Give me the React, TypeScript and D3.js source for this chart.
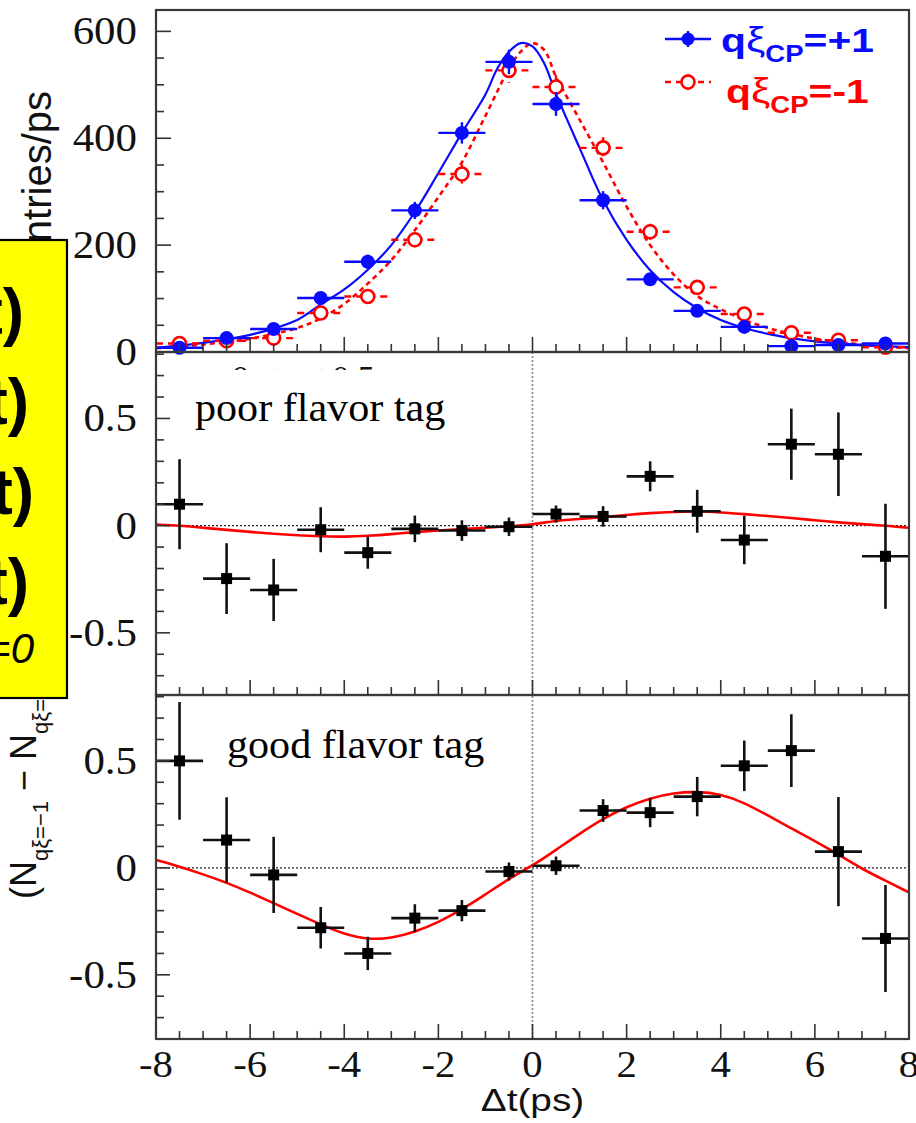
import React from "react";
import * as d3 from "d3";

// ---------- data ----------
const binCenters = [-7.5, -6.5, -5.5, -4.5, -3.5, -2.5, -1.5, -0.5, 0.5, 1.5, 2.5, 3.5, 4.5, 5.5, 6.5, 7.5];
const binHalfWidth = 0.5;

// top panel: entries/ps
const bluePlusVals = [8, 26, 43, 101, 169, 265, 410, 543, 464, 284, 136, 77, 47, 11, 13, 16];
const bluePlusErrs = [4, 5, 7, 10, 13, 16, 20, 23, 22, 17, 12, 9, 7, 4, 4, 4];
const redMinusVals = [16, 21, 26, 73, 104, 210, 333, 527, 496, 382, 225, 121, 71, 36, 22, 9];
const redMinusErrs = [4, 5, 5, 9, 10, 14, 18, 23, 22, 20, 15, 11, 8, 6, 5, 3];

const blueFitX = [-8, -7, -6, -5, -4.5, -4, -3.5, -3, -2.5, -2, -1.5, -1, -0.75, -0.5, -0.25, 0, 0.25, 0.5, 1, 1.5, 2, 2.5, 3, 3.5, 4, 4.5, 5, 5.5, 6, 6.5, 7, 7.5, 8];
const blueFitY = [8, 17, 32, 60, 89, 117, 154, 200, 262, 335, 410, 482, 530, 562, 578, 572, 540, 483, 382, 284, 210, 153, 112, 82, 60, 45, 34, 26, 20, 16, 13, 11, 9];
const redFitX = [-8, -7, -6, -5, -4.5, -4, -3.5, -3, -2.5, -2, -1.5, -1, -0.5, -0.25, 0, 0.25, 0.5, 1, 1.5, 2, 2.5, 3, 3.5, 4, 4.5, 5, 5.5, 6, 6.5, 7, 7.5, 8];
const redFitY = [7, 14, 25, 45, 63, 90, 128, 172, 228, 290, 355, 442, 530, 562, 578, 565, 515, 435, 355, 272, 200, 145, 105, 80, 60, 45, 34, 25, 19, 14, 10, 7];

// middle panel: poor flavor tag asymmetry
const poorVals = [0.10, -0.247, -0.30, -0.019, -0.126, -0.015, -0.023, -0.005, 0.054, 0.043, 0.23, 0.067, -0.067, 0.38, 0.333, -0.143];
const poorErrs = [0.21, 0.165, 0.145, 0.105, 0.075, 0.062, 0.048, 0.043, 0.04, 0.048, 0.07, 0.1, 0.113, 0.166, 0.195, 0.245];
const poorFitX = [-8, -7.5, -7, -6, -5, -4.5, -4, -3.5, -3, -2.5, -2, -1.5, -1, -0.5, 0, 0.5, 1, 1.5, 2, 2.5, 3, 3.5, 4, 4.5, 5, 5.5, 6, 6.5, 7, 7.5, 8];
const poorFitY = [0.005, 0, -0.01, -0.03, -0.045, -0.05, -0.052, -0.048, -0.04, -0.03, -0.022, -0.016, -0.01, -0.003, 0.005, 0.023, 0.031, 0.039, 0.05, 0.059, 0.064, 0.067, 0.062, 0.054, 0.045, 0.036, 0.025, 0.015, 0.007, 0, -0.01];

// bottom panel: good flavor tag asymmetry
const goodVals = [0.50, 0.13, -0.033, -0.28, -0.40, -0.235, -0.20, -0.017, 0.01, 0.268, 0.258, 0.333, 0.477, 0.548, 0.076, -0.33];
const goodErrs = [0.275, 0.2, 0.178, 0.097, 0.078, 0.065, 0.05, 0.042, 0.043, 0.053, 0.068, 0.092, 0.118, 0.17, 0.255, 0.25];
const goodFitX = [-8, -7.5, -7, -6.5, -6, -5.5, -5, -4.5, -4, -3.5, -3, -2.5, -2, -1.5, -1, -0.5, 0, 0.5, 1, 1.5, 2, 2.5, 3, 3.5, 4, 4.5, 5, 5.5, 6, 6.5, 7, 7.5, 8];
const goodFitY = [0.037, 0.006, -0.03, -0.069, -0.115, -0.165, -0.215, -0.265, -0.31, -0.335, -0.33, -0.3, -0.255, -0.195, -0.125, -0.05, 0.01, 0.084, 0.16, 0.23, 0.286, 0.326, 0.35, 0.357, 0.345, 0.305, 0.245, 0.185, 0.125, 0.062, -0.005, -0.06, -0.115];

// ticks / labels
const xTickLabels = [-8, -6, -4, -2, 0, 2, 4, 6, 8];
const topYTickLabels = [0, 200, 400, 600];
const asymYTickLabels = [-0.5, 0, 0.5];
const yellowLines = ["P(Δt)", "S(Δt)", "A(Δt)", "C(Δt)"];

// ---------- layout ----------
const W = 916;
const H = 1123;
const X0 = 156;
const X1 = 909;
const SERIF = "'Liberation Serif', 'Times New Roman', serif";
const SANS = "'Liberation Sans', Arial, sans-serif";
const BLUE = "#0a0aff";
const RED = "#ff0000";

const x = d3.scaleLinear().domain([-8, 8]).range([X0, X1]);
const topY = d3.scaleLinear().domain([0, 640]).range([352, 10]);
const midY = d3.scaleLinear().domain([-0.79, 0.81]).range([695, 352]);
const botY = d3.scaleLinear().domain([-0.8, 0.808]).range([1039, 695]);

const xMinor = d3.range(-7.5, 8, 0.5);

function fitPath(xs: number[], ys: number[], yScale: (v: number) => number, smooth = false) {
  const pts = xs.map((v, i) => [v, ys[i]] as [number, number]);
  return d3
    .line<[number, number]>()
    .x((d) => x(d[0]))
    .y((d) => yScale(d[1]))
    .curve(smooth ? d3.curveBasis : d3.curveCatmullRom.alpha(0.5))(pts) as string;
}

function XTicks({ bottom }: { bottom: number }) {
  return (
    <g stroke="#333" strokeWidth={1.6}>
      {xMinor.map((t) => {
        const major = Math.abs(t % 2) < 1e-6;
        return <line key={t} x1={x(t)} x2={x(t)} y1={bottom} y2={bottom - (major ? 15 : 8)} />;
      })}
    </g>
  );
}

function YTicks({ scale, minor, major, majorLen }: { scale: (v: number) => number; minor: number[]; major: number[]; majorLen: number }) {
  return (
    <g stroke="#333" strokeWidth={1.6}>
      {minor.map((t, i) => (
        <line key={"m" + i} x1={X0} x2={X0 + 8} y1={scale(t)} y2={scale(t)} />
      ))}
      {major.map((t, i) => (
        <line key={"M" + i} x1={X0} x2={X0 + majorLen} y1={scale(t)} y2={scale(t)} />
      ))}
    </g>
  );
}

function YLabel({ y, text }: { y: number; text: string }) {
  return (
    <text
      transform={`translate(137,${y + 13}) scale(1.1,1)`}
      textAnchor="end"
      fontFamily={SERIF}
      fontSize={39}
      fill="#111"
    >
      {text}
    </text>
  );
}

function AsymPoints({ vals, errs, scale }: { vals: number[]; errs: number[]; scale: (v: number) => number }) {
  return (
    <g>
      {binCenters.map((c, i) => (
        <g key={i} stroke="#111" strokeWidth={2.6}>
          <line x1={x(c - binHalfWidth)} x2={x(c + binHalfWidth)} y1={scale(vals[i])} y2={scale(vals[i])} />
          <line x1={x(c)} x2={x(c)} y1={scale(vals[i] + errs[i])} y2={scale(vals[i] - errs[i])} />
          <rect x={x(c) - 5.5} y={scale(vals[i]) - 5.5} width={11} height={11} fill="#000" stroke="none" />
        </g>
      ))}
    </g>
  );
}

function fmt(v: number) {
  return v < 0 ? "-" + String(Math.abs(v)) : String(v);
}

export default function App() {
  const minorTop = d3.range(50, 640, 50).filter((v) => v % 200 !== 0);
  const minorAsym = d3.range(-7, 9).map((v) => v / 10).filter((v) => Math.abs(v * 10) % 5 !== 0);

  return (
    <svg
      width={W}
      height={H}
      viewBox={`0 0 ${W} ${H}`}
      style={{ position: "absolute", left: 0, top: 0, background: "#fff" }}
    >
      <rect x={0} y={0} width={W} height={H} fill="#fff" />

      {/* ---------------- top panel ---------------- */}
      <path d={fitPath(redFitX, redFitY, topY)} fill="none" stroke={RED} strokeWidth={2.6} strokeDasharray="5,4" />
      <path d={fitPath(blueFitX, blueFitY, topY)} fill="none" stroke={BLUE} strokeWidth={2.2} />
      {binCenters.map((c, i) => (
        <g key={"r" + i} stroke={RED} strokeWidth={2.4} strokeDasharray="7,5">
          <line x1={x(c - binHalfWidth)} x2={x(c + binHalfWidth)} y1={topY(redMinusVals[i])} y2={topY(redMinusVals[i])} />
          <line x1={x(c)} x2={x(c)} y1={topY(redMinusVals[i] + redMinusErrs[i])} y2={topY(redMinusVals[i] - redMinusErrs[i])} />
        </g>
      ))}
      {binCenters.map((c, i) => (
        <circle key={"rc" + i} cx={x(c)} cy={topY(redMinusVals[i])} r={6.5} fill="#fff" stroke={RED} strokeWidth={2.6} />
      ))}
      {binCenters.map((c, i) => (
        <g key={"b" + i} stroke={BLUE} strokeWidth={2.4}>
          <line x1={x(c - binHalfWidth)} x2={x(c + binHalfWidth)} y1={topY(bluePlusVals[i])} y2={topY(bluePlusVals[i])} />
          <line x1={x(c)} x2={x(c)} y1={topY(bluePlusVals[i] + bluePlusErrs[i])} y2={topY(bluePlusVals[i] - bluePlusErrs[i])} />
          <circle cx={x(c)} cy={topY(bluePlusVals[i])} r={7} fill={BLUE} stroke="none" />
        </g>
      ))}
      <XTicks bottom={352} />
      <YTicks scale={topY} minor={minorTop} major={topYTickLabels} majorLen={15} />

      {/* legend */}
      <g>
        <line x1={665} x2={711} y1={39} y2={39} stroke={BLUE} strokeWidth={2.4} />
        <line x1={688} x2={688} y1={31} y2={47} stroke={BLUE} strokeWidth={2.4} />
        <circle cx={688} cy={39} r={6.5} fill={BLUE} />
        <line x1={665} x2={711} y1={82} y2={82} stroke={RED} strokeWidth={2.4} strokeDasharray="6,5" />
        <line x1={688} x2={688} y1={74} y2={90} stroke={RED} strokeWidth={2.4} />
        <circle cx={688} cy={82} r={6.5} fill="#fff" stroke={RED} strokeWidth={2.6} />
        <text transform="translate(721,52) scale(1.2,1)" fontFamily={SANS} fontWeight="bold" fontSize={34} fill={BLUE}>
          q<tspan fontWeight="normal" fontSize={36}>ξ</tspan>
          <tspan fontSize={23} dy={10}>CP</tspan>
          <tspan dy={-10}>=+1</tspan>
        </text>
        <text transform="translate(726,103) scale(1.2,1)" fontFamily={SANS} fontWeight="bold" fontSize={34} fill={RED}>
          q<tspan fontWeight="normal" fontSize={36}>ξ</tspan>
          <tspan fontSize={23} dy={10}>CP</tspan>
          <tspan dy={-10}>=-1</tspan>
        </text>
      </g>

      {/* ---------------- middle panel ---------------- */}
      <line x1={X0} x2={X1} y1={midY(0)} y2={midY(0)} stroke="#222" strokeWidth={1.4} strokeDasharray="2,2" />
      <line x1={x(0)} x2={x(0)} y1={352} y2={1039} stroke="#888" strokeWidth={1.6} strokeDasharray="2,2" />
      <text x={232} y={389} fontFamily={SERIF} fontSize={34} fill="#111">0 &lt; r ≤ 0.5</text>
      <rect x={172} y={370} width={298} height={70} fill="#fff" />
      <text transform="translate(195,421) scale(1.08,1)" fontFamily={SERIF} fontSize={39} fill="#000">
        poor flavor tag
      </text>
      <path d={fitPath(poorFitX, poorFitY, midY, true)} fill="none" stroke={RED} strokeWidth={2.6} />
      <AsymPoints vals={poorVals} errs={poorErrs} scale={midY} />
      <XTicks bottom={695} />
      <YTicks scale={midY} minor={minorAsym} major={asymYTickLabels} majorLen={14} />

      {/* ---------------- bottom panel ---------------- */}
      <line x1={X0} x2={X1} y1={botY(0)} y2={botY(0)} stroke="#222" strokeWidth={1.4} strokeDasharray="2,2" />
      <rect x={207} y={705} width={301} height={73} fill="#fff" />
      <text transform="translate(227,758) scale(1.08,1)" fontFamily={SERIF} fontSize={39} fill="#000">
        good flavor tag
      </text>
      <path d={fitPath(goodFitX, goodFitY, botY, true)} fill="none" stroke={RED} strokeWidth={2.6} />
      <AsymPoints vals={goodVals} errs={goodErrs} scale={botY} />
      <XTicks bottom={1039} />
      <YTicks scale={botY} minor={minorAsym} major={asymYTickLabels} majorLen={14} />

      {/* frames */}
      <g fill="none" stroke="#3a3a3a" strokeWidth={2.2}>
        <rect x={X0} y={10} width={X1 - X0} height={342} />
        <rect x={X0} y={352} width={X1 - X0} height={343} />
        <rect x={X0} y={695} width={X1 - X0} height={344} />
      </g>

      {/* y labels */}
      {topYTickLabels.map((t) => (
        <YLabel key={"ty" + t} y={topY(t)} text={String(t)} />
      ))}
      {asymYTickLabels.map((t) => (
        <YLabel key={"my" + t} y={midY(t)} text={fmt(t)} />
      ))}
      {asymYTickLabels.map((t) => (
        <YLabel key={"by" + t} y={botY(t)} text={fmt(t)} />
      ))}

      {/* x labels */}
      {xTickLabels.map((t) => (
        <text
          key={"xl" + t}
          transform={`translate(${x(t)},1077) scale(1.1,1)`}
          textAnchor="middle"
          fontFamily={SERIF}
          fontSize={37}
          fill="#111"
        >
          {fmt(t)}
        </text>
      ))}
      <text
        transform={`translate(${x(0)},1111) scale(1.25,1)`}
        textAnchor="middle"
        fontFamily={SANS}
        fontSize={31}
        fill="#111"
      >
        Δt(ps)
      </text>

      {/* y titles */}
      <text transform="translate(51,91) rotate(-90)" textAnchor="end" fontFamily={SANS} fontSize={40} fill="#111">
        Entries/ps
      </text>
      <text transform="translate(36,899) rotate(-90)" textAnchor="start" fontFamily={SANS} fontSize={36} fill="#111">
        (N<tspan fontSize={22} dy={12}>qξ=−1</tspan>
        <tspan dy={-12}> − N</tspan>
        <tspan fontSize={22} dy={12}>qξ=+1</tspan>
        <tspan dy={-12}>)/(N</tspan>
        <tspan fontSize={22} dy={12}>qξ=−1</tspan>
        <tspan dy={-12}> + N</tspan>
        <tspan fontSize={22} dy={12}>qξ=+1</tspan>
        <tspan dy={-12}>)</tspan>
      </text>

      {/* yellow overlay box */}
      <rect x={-4} y={240} width={71} height={458} fill="#ffff00" stroke="#000" strokeWidth={2.2} />
      {yellowLines.map((s, i) => (
        <text
          key={"yl" + i}
          x={[24, 29, 34, 29][i]}
          y={334 + i * 90}
          textAnchor="end"
          fontFamily={SANS}
          fontWeight="bold"
          fontSize={64}
          fill="#000"
        >
          {s}
        </text>
      ))}
      <text x={34} y={663} textAnchor="end" fontFamily={SANS} fontStyle="italic" fontSize={42} fill="#000">
        A=0
      </text>
    </svg>
  );
}
